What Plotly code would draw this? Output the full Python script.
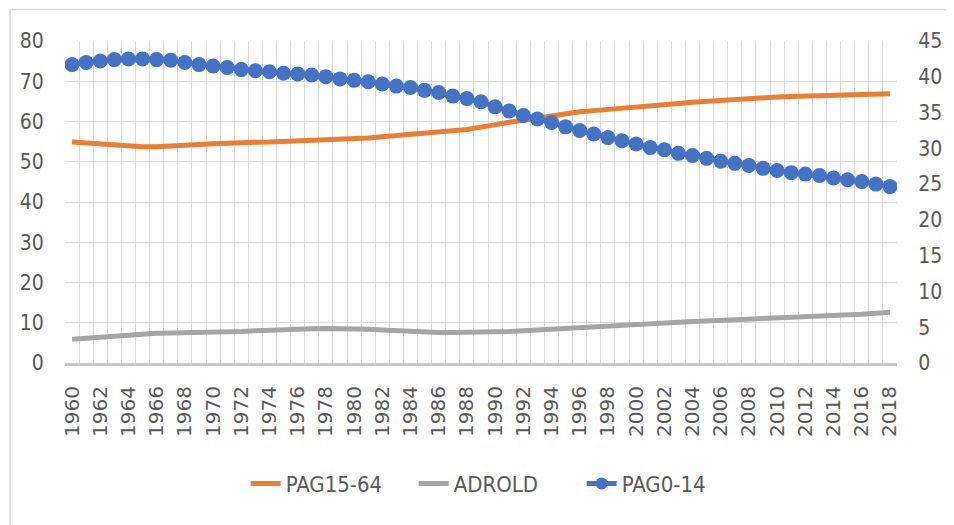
import plotly.graph_objects as go

years = list(range(1960, 2019))

pag15_64 = [54.9, 54.6, 54.3, 54.0, 53.8, 53.7, 53.7, 53.8, 54.1, 54.3,
            54.5, 54.7, 54.8, 54.85, 54.9, 55.0, 55.1, 55.2, 55.3, 55.45,
            55.6, 55.9, 56.2, 56.45, 56.7, 57.05, 57.4, 57.7, 58.0, 58.6,
            59.3, 59.8, 60.3, 60.9, 61.5, 62.0, 62.4, 62.7, 62.95, 63.3,
            63.6, 63.9, 64.2, 64.5, 64.8, 65.05, 65.3, 65.5, 65.7, 65.9,
            66.1, 66.2, 66.3, 66.45, 66.6, 66.65, 66.7, 66.8, 66.9]

adrold = [5.9, 6.2, 6.5, 6.8, 7.1, 7.25, 7.4, 7.45, 7.5, 7.5,
          7.5, 7.65, 7.8, 8.0, 8.2, 8.3, 8.4, 8.5, 8.6, 8.6,
          8.6, 8.4, 8.2, 8.0, 7.8, 7.7, 7.6, 7.6, 7.6, 7.6,
          7.6, 7.8, 8.0, 8.2, 8.4, 8.6, 8.8, 9.05, 9.3, 9.55,
          9.8, 9.95, 10.1, 10.2, 10.3, 10.45, 10.6, 10.7, 10.8, 10.9,
          11.0, 11.1, 11.2, 11.4, 11.6, 11.85, 12.1, 12.35, 12.6]

pag0_14 = [41.7, 42.0, 42.2, 42.4, 42.5, 42.5, 42.4, 42.3, 42.0, 41.7,
           41.5, 41.3, 41.0, 40.85, 40.7, 40.5, 40.4, 40.25, 40.0, 39.7,
           39.5, 39.3, 39.0, 38.7, 38.5, 38.1, 37.8, 37.3, 36.95, 36.5,
           35.8, 35.2, 34.6, 34.1, 33.6, 33.0, 32.5, 32.0, 31.5, 31.05,
           30.6, 30.1, 29.8, 29.3, 29.0, 28.6, 28.2, 27.9, 27.6, 27.2,
           26.9, 26.6, 26.4, 26.2, 25.85, 25.6, 25.35, 25.0, 24.65]

x_tick_labels = [str(y) for y in range(1960, 2019, 2)]
left_ticks = [0, 10, 20, 30, 40, 50, 60, 70, 80]
right_ticks = [0, 5, 10, 15, 20, 25, 30, 35, 40, 45]

TXT = "#595959"
FONT = "DejaVu Sans Condensed, Liberation Sans Narrow, sans-serif"

fig = go.Figure()
fig.add_trace(go.Scatter(x=years, y=pag15_64, name="PAG15-64", mode="lines",
                         line=dict(color="#ED7D31", width=5), yaxis="y"))
fig.add_trace(go.Scatter(x=years, y=adrold, name="ADROLD", mode="lines",
                         line=dict(color="#A5A5A5", width=5), yaxis="y"))
fig.add_trace(go.Scatter(x=years, y=pag0_14, name="PAG0-14", mode="lines+markers",
                         line=dict(color="#4472C4", width=5),
                         marker=dict(color="#4472C4", size=15), yaxis="y2"))

fig.update_layout(
    width=946, height=517,
    margin=dict(l=57, r=51, t=33, b=162),
    paper_bgcolor="white", plot_bgcolor="white",
    showlegend=True,
    legend=dict(orientation="h", x=0.52, xanchor="center", y=-0.375, yanchor="middle",
                font=dict(family=FONT, size=22, color=TXT), traceorder="normal",
                entrywidth=123, entrywidthmode="pixels", itemsizing="constant"),
    xaxis=dict(range=[1959.5, 2018.5], tickmode="array",
               tickvals=list(range(1960, 2019, 2)), ticktext=x_tick_labels,
               tickangle=-90, showgrid=False, zeroline=False,
               ticks="outside", ticklen=12, tickcolor="rgba(0,0,0,0)",
               tickfont=dict(family="DejaVu Sans, sans-serif", size=20, color=TXT),
               showline=True, linecolor="#c8c8c8", linewidth=3,
               minor=dict(tick0=1959.5, dtick=1, showgrid=True,
                          gridcolor="#d9d9d9", gridwidth=1, ticks="")),
    yaxis=dict(range=[0, 80], tickvals=left_ticks, showgrid=True,
               gridcolor="#d9d9d9", gridwidth=1, zeroline=False,
               ticks="outside", ticklen=16, tickcolor="rgba(0,0,0,0)",
               tickfont=dict(family=FONT, size=21, color=TXT)),
    yaxis2=dict(range=[0, 45], tickvals=right_ticks, overlaying="y", side="right",
                showgrid=False, zeroline=False,
                ticks="outside", ticklen=16, tickcolor="rgba(0,0,0,0)",
                tickfont=dict(family=FONT, size=21, color=TXT)),
    shapes=[dict(type="rect", xref="paper", yref="paper",
                 x0=-0.066, x1=1.07, y0=-0.53, y1=1.0975,
                 line=dict(color="#d9d9d9", width=1.5), fillcolor="rgba(0,0,0,0)",
                 layer="below")],
)

fig.write_html("out.html")
